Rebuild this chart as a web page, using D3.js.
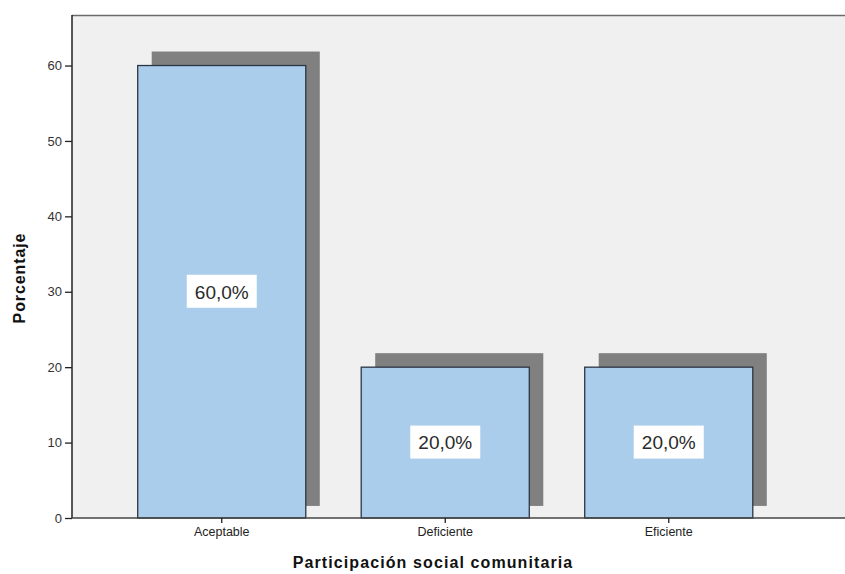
<!DOCTYPE html>
<html>
<head>
<meta charset="utf-8">
<script src="https://cdn.jsdelivr.net/npm/d3@7"></script>
<style>
  body { margin: 0; background: #ffffff; }
  svg { display: block; font-family: Arial, "Liberation Sans", sans-serif; }
</style>
</head>
<body>
<svg id="chart" width="845" height="574"></svg>
<script>
// Participación social comunitaria — percentage per category
const categories = ["Aceptable", "Deficiente", "Eficiente"];
const percentages = [60.0, 20.0, 20.0];
const yTicks = [0, 10, 20, 30, 40, 50, 60];
const xTitle = "Participación social comunitaria";
const yTitle = "Porcentaje";

const svg = d3.select("#chart");
const W = 845, H = 574;
const plotLeft = 72, plotTop = 15, plotBottom = 518, plotRight = 818.5;

const x = d3.scaleBand()
  .domain(categories)
  .range([plotLeft, plotRight])
  .paddingInner(0.248)
  .paddingOuter(0.294);

const y = d3.scaleLinear()
  .domain([0, 66.7])
  .range([plotBottom, plotTop]);

// plot background
svg.append("rect")
  .attr("x", plotLeft).attr("y", plotTop)
  .attr("width", W - plotLeft).attr("height", plotBottom - plotTop)
  .attr("fill", "#f0f0f0");
svg.append("line")
  .attr("x1", plotLeft).attr("x2", W)
  .attr("y1", plotTop + 0.5).attr("y2", plotTop + 0.5)
  .attr("stroke", "#6b6b6b").attr("stroke-width", 1.5);

const shadow = 14;

// drop shadows behind bars
svg.append("g").selectAll("rect")
  .data(categories)
  .join("rect")
  .attr("x", d => x(d) + shadow)
  .attr("y", (d, i) => y(percentages[i]) - shadow)
  .attr("width", x.bandwidth())
  .attr("height", (d, i) => y(1.6) - y(percentages[i]) + shadow)
  .attr("fill", "#808080");

// bars
svg.append("g").selectAll("rect")
  .data(categories)
  .join("rect")
  .attr("x", d => x(d))
  .attr("y", (d, i) => y(percentages[i]))
  .attr("width", x.bandwidth())
  .attr("height", (d, i) => y(0) - y(percentages[i]))
  .attr("fill", "#abcdec")
  .attr("stroke", "#2b3644")
  .attr("stroke-width", 1.3);

// value labels with white boxes
const labels = svg.append("g").selectAll("g")
  .data(categories)
  .join("g")
  .attr("transform", (d, i) =>
    `translate(${x(d) + x.bandwidth() / 2},${y(percentages[i] / 2)})`);
labels.append("rect")
  .attr("x", -35).attr("y", -17)
  .attr("width", 70).attr("height", 33)
  .attr("fill", "#ffffff");
labels.append("text")
  .attr("text-anchor", "middle")
  .attr("dy", "0.36em")
  .attr("font-size", 19)
  .attr("fill", "#2a2a2a")
  .text((d, i) => d3.format(".1f")(percentages[i]).replace(".", ",") + "%");

// y axis
const yAxis = svg.append("g")
  .attr("transform", `translate(${plotLeft},0)`)
  .call(d3.axisLeft(y).tickValues(yTicks).tickSize(7).tickPadding(3).tickSizeOuter(0));
yAxis.select(".domain").attr("stroke", "#222").attr("stroke-width", 1.5)
  .attr("d", `M0,${plotBottom}V${plotTop}`);
yAxis.selectAll(".tick line").attr("stroke", "#222").attr("stroke-width", 1.3);
yAxis.selectAll(".tick text").attr("font-size", 13).attr("fill", "#333")
  .attr("font-family", "Arial, 'Liberation Sans', sans-serif");

// x axis
const xAxis = svg.append("g")
  .attr("transform", `translate(0,${plotBottom})`)
  .call(d3.axisBottom(x).tickSize(5).tickPadding(4).tickSizeOuter(0));
xAxis.select(".domain").attr("stroke", "#444").attr("stroke-width", 1.5)
  .attr("d", `M${plotLeft},0H${W}`);
xAxis.selectAll(".tick line").attr("stroke", "#222").attr("stroke-width", 1.3);
xAxis.selectAll(".tick text").attr("font-size", 12.5).attr("fill", "#222")
  .attr("font-family", "Arial, 'Liberation Sans', sans-serif");

// axis titles
svg.append("text")
  .attr("x", 433).attr("y", 568)
  .attr("text-anchor", "middle")
  .attr("font-size", 16).attr("font-weight", "bold")
  .attr("letter-spacing", "1.1px")
  .attr("fill", "#111")
  .text(xTitle);

svg.append("text")
  .attr("transform", "translate(25,278) rotate(-90)")
  .attr("text-anchor", "middle")
  .attr("font-size", 16).attr("font-weight", "bold")
  .attr("letter-spacing", "0.9px")
  .attr("fill", "#111")
  .text(yTitle);
</script>
</body>
</html>
